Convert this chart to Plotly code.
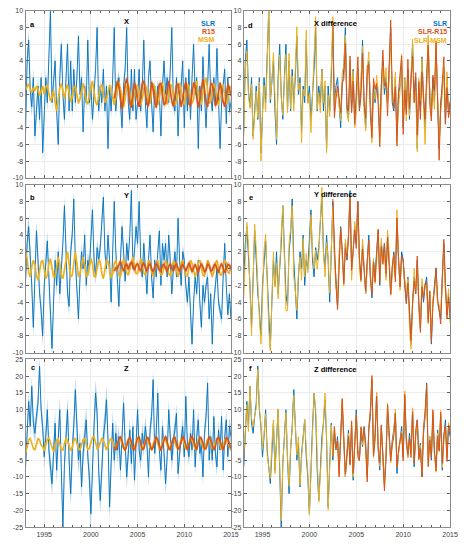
import numpy as np
import plotly.graph_objects as go

# ---------------- data (fractional years, 2-month grid from 1993.0) ----------------
START_YEAR = 1993.0
STEP = 1.0 / 6.0
R15_START_INDEX = 57  # R15 begins mid-2002

slr_x = [-4.5, 4, 6.5, 0.5, -1.5, 2,
         -5, -2, 1, -3, 2, -7,
         -2, 2, -1, 4, 10, -1,
         2, 4, -2, -6, 2, 6,
         0, -3, 2, 6, -2, 4,
         -2, 3, -1, 2, 7, 0,
         2, -4.5, 1, -1, 6.5, -1,
         1, -3, 0, 3, 8, -2,
         1, -1, 3, -2, 1, -6.5,
         1, -2, 2, 8, -2, 1,
         2, -1, -4, 1, 3, 8,
         -1, -3, 3, -2, 3, -3,
         -1, 3, -2, 1, 6.5, -1,
         -4, 2, 4, -1, -4.5, 1,
         -1, 1, 0, -5, 1, 4,
         0, 2, -1, 3, 8, -1,
         -2, 2, -5, 0, 1, 4,
         -4, 2, -2, 3, -3, 2,
         6, 0, 2, -6.5, 1, -2,
         4.5, 0, -4, 1, 6, 0,
         -2, 2, -1, 5.5, -1, -6.5,
         -1, 1, 3, -3.5, 2, -2,
         -1]

slr_y = [-1.5, 3, 5, 2, -2, -7,
         -1, 4.5, 1, -3, -5, -8,
         -2, 1, 3.3, -1, -6, -9.5,
         -4, 1, -2, 2, -3, 0,
         3, 7.5, 1, -3, -4.5, 2,
         4, 8.3, 1, -2, -6, -1,
         2, 0, 4, -2, 1, 0,
         3, 7, 1, -1, 2.5, 1,
         2.5, 5, 8.5, 2, 0, 4,
         1, -4, 3, 8, 2, -2,
         -4.5, 1, 5, 2, -1.5, 3,
         1, 4, 9.3, 0, 2, 5,
         3, 8, 1, -1, 3, 0,
         -3, 1, 4, -1, -3.5, 1,
         -1, 2, 4.5, -2, 3, 1,
         3, -1, 4, 1, -3, 0,
         2, -1, 6, 1, -2, 2,
         1, -2, -4, -1, -6, -9,
         -4, -1, -3, 1, -4, -7,
         -2, -4, -2, -1, -6, -3,
         -9, -4, -2, 0, -4, -5,
         -6, -1, 3, -2, -5.5, -3,
         -6]

slr_z = [-7, 3, 12.5, 5, 17, 6,
         3, 8, 12, 23, 10, 5,
         -4, 2, 10, -2, -7, -12,
         -3, 6, -8, 2, 10, -8,
         -25, -6, 2, 10, -5, -15,
         -2, 5, 16, 3, -5, 0,
         -13, -3, 2, 7, -4, -10,
         -21, -6, 5, 15, 9, -8,
         -17, -8, 2, 6, 13, 1,
         -19, -6, 6, -5, 3, -2,
         2, -8, 4, 12, 0, -10,
         -3, 4, -6, 5, -11, 2,
         10, -2, -5, 3, -1, 5,
         0, -10, 4, 8, 19, -3,
         3, 15, -2, -8, 5, -3,
         -12, -4, 10, 2, -5, 1,
         4, 9, -9, -3, 2, 5,
         -4, 14, 0, -4, 3, -2,
         10, -7, 2, 7, -3, 0,
         -10, 3, 8, 18, -5, 2,
         -5, 8, -3, -7, 4, -2,
         8, -8, 2, 7, -4, 5,
         2]

# per-year half-width of the SLR uncertainty band (1993 ... 2014)
slr_x_sigma = [1.2, 1.2, 1.1, 1.1, 1.0, 1.0, 1.0, 1.0, 0.9, 0.9, 0.9,
               0.9, 0.8, 0.8, 0.8, 0.8, 0.8, 0.8, 0.8, 0.8, 0.8, 0.8]
slr_y_sigma = [1.3, 1.3, 1.2, 1.2, 1.1, 1.0, 1.0, 1.0, 0.9, 0.9, 0.9,
               0.9, 0.8, 0.8, 0.8, 0.8, 0.8, 0.8, 0.8, 0.8, 0.8, 0.8]
slr_z_sigma = [3.0, 3.0, 3.5, 4.0, 4.0, 4.0, 4.0, 4.0, 4.0, 4.0, 3.5,
               3.5, 3.0, 3.0, 3.0, 3.0, 2.8, 2.8, 2.8, 2.8, 2.8, 2.8]

msm_x = [0.5, 1.0, 1.3, 0.6, 0.2, 0.8,
         0.4, 1.0, 0.6, -0.2, 0.5, 1.0,
         0.0, 0.9, 1.1, 0.3, -0.8, -0.4,
         0.5, -1.0, -2.0, -0.6, 0.8, 1.3,
         0.4, -0.5, 0.6, 1.2, 0.2, -0.9,
         -0.3, 0.8, 1.0, -0.2, -1.1, -0.5,
         0.6, 1.3, 0.4, -0.8, -1.2, 0.1,
         0.9, 1.6, 0.5, -0.9, -1.3, -0.2,
         0.8, 1.2, 0.1, -1.0, -0.6, 0.5,
         1.1, 0.7, -0.6, -1.3, -0.4, 0.8,
         1.5, 0.6, -0.8, -1.6, -0.5, 0.9,
         1.3, 0.3, -1.0, -1.2, 0.2, 1.0,
         1.1, -0.2, -1.3, -0.6, 0.7, 1.2,
         0.4, -0.9, -1.1, 0.3, 1.3, 0.8,
         -0.4, -1.3, -0.5, 0.8, 1.4, 0.5,
         -0.8, -1.2, 0.2, 1.2, 1.0, -0.3,
         -1.3, -0.7, 0.6, 1.4, 0.5, -0.8,
         -1.2, 0.1, 1.2, 1.0, -0.4, -1.1,
         -0.6, 0.9, 1.6, 0.4, -0.9, -1.2,
         0.2, 1.4, 2.0, 0.3, -1.1, -0.9,
         0.6, 1.3, 0.8, -0.6, -1.3, -0.4,
         1.0, 1.1, -0.3, -1.2, -0.7, 0.6,
         1.0]

msm_y = [2.0, 1.2, -0.5, -1.0, 0.2, 1.0,
         0.5, -0.8, -1.4, -0.3, 0.8, 1.0,
         -0.2, -1.2, -0.8, 0.6, 1.2, 0.3,
         -1.0, -1.0, 0.2, 1.4, 0.6, -0.8,
         -1.2, 0.0, 1.3, 2.0, 0.5, -1.0,
         -0.8, 0.8, 2.0, 0.6, -1.0, -0.6,
         0.6, 1.4, 0.4, -1.0, -0.8, 0.5,
         1.2, 0.6, -0.9, -1.0, 0.3, 1.1,
         0.8, -0.6, -1.2, 0.0, 1.0, 0.9,
         -0.3, -1.1, -0.6, 0.6, 1.0, 0.2,
         -0.8, -1.0, 0.2, 1.2, 0.6, -0.5,
         -0.8, 0.0, 0.9, 1.4, 0.4, -0.6,
         -0.6, 0.5, 1.2, 0.6, -0.5, -0.8,
         0.0, 1.0, 0.8, -0.4, -0.9, -0.2,
         0.8, 1.0, 0.0, -0.8, -0.6, 0.4,
         1.0, 0.4, -0.6, -0.9, 0.1, 0.9,
         0.7, -0.3, -1.0, -0.4, 0.6, 1.0,
         0.2, -0.8, -0.9, 0.2, 1.0, 0.6,
         -0.4, -1.0, -0.4, 0.7, 1.0, 0.1,
         -0.8, -0.9, 0.2, 1.0, 0.6, -0.4,
         -1.0, -0.4, 0.6, 1.0, 0.2, -0.7,
         -0.8, 0.2, 1.0, 0.7, -0.4, -0.6,
         0.5]

msm_z = [-3.0, -0.5, 1.0, 1.5, 0.0, -1.5,
         -2.0, 0.0, 1.5, 1.0, -0.5, -1.0,
         -2.2, -0.5, 1.2, 1.6, 0.2, -1.5,
         -2.5, -1.0, 1.0, 1.3, -0.3, -1.8,
         -2.0, 0.2, 1.5, 0.8, -1.0, -2.2,
         -1.2, 0.8, 1.6, 0.3, -1.5, -2.0,
         -0.5, 1.2, 1.4, -0.2, -1.8, -1.5,
         0.3, 1.8, 2.0, 0.0, -1.6, -1.2,
         0.5, 1.6, 1.0, -0.8, -2.0, -0.8,
         0.8, 1.5, 0.5, -1.2, -1.8, -0.3,
         1.0, 1.4, 0.2, -1.5, -1.6, 0.0,
         1.2, 1.0, -0.5, -1.8, -1.0, 0.5,
         1.5, 0.8, -0.8, -2.0, -0.6, 0.8,
         1.6, 0.3, -1.2, -1.8, 0.0, 1.2,
         1.4, -0.2, -1.6, -1.2, 0.5, 1.5,
         1.0, -0.8, -2.0, -0.8, 0.8, 1.6,
         0.6, -1.2, -1.8, -0.2, 1.2, 1.4,
         0.0, -1.6, -1.5, 0.4, 1.6, 1.0,
         -0.6, -1.8, -0.8, 1.0, 1.8, 0.5,
         -1.2, -1.8, -0.2, 1.4, 1.5, 0.0,
         -1.6, -1.4, 0.4, 1.6, 1.0, -0.6,
         -1.8, -0.8, 1.0, 1.5, 0.4, -1.2,
         -2.2]

r15_x = [-0.5, 0.8, 1.6,
         1.0, -0.6, -1.8, -0.4, 1.2, 1.9,
         0.8, -1.0, -1.6, 0.2, 1.4, 0.6,
         -0.8, -1.5, -0.2, 1.3, 1.6, 0.2,
         -1.2, -1.4, 0.4, 1.5, 0.7, -0.9,
         -1.6, -0.3, 1.2, 1.3, -0.2, -1.3,
         -1.0, 0.6, 1.6, 0.5, -0.9, -1.4,
         -0.3, 1.1, 1.2, -0.4, -1.5, -0.6,
         0.8, 1.5, 0.4, -1.2, -1.3, 0.2,
         1.4, 1.0, -0.6, -1.6, -0.5, 1.0,
         1.8, 0.7, -1.0, -1.5, 0.1, 1.3,
         1.2, -0.3, -1.4, -0.9, 0.6, 1.4,
         0.5, -0.9, -1.5, 0.1, 1.2, 0.8,
         -0.2]

r15_y = [-0.3, 0.1, 0.0,
         0.4, 0.9, 0.2, -0.3, 0.3, 0.6,
         -0.1, 0.5, 0.8, 0.2, -0.2, 0.4,
         0.6, 0.0, -0.3, 0.4, 0.7, 0.1,
         -0.3, 0.3, 0.6, 0.0, -0.4, 0.2,
         0.6, 0.3, -0.2, -0.3, 0.4, 0.5,
         0.0, -0.4, 0.3, 0.6, 0.1, -0.3,
         0.3, 0.6, 0.0, -0.4, 0.2, 0.5,
         0.1, -0.3, 0.2, 0.7, 0.2, -0.4,
         0.1, 0.5, 0.0, -0.5, 0.2, 0.6,
         0.2, -0.4, -0.2, 0.5, 0.4, -0.3,
         -0.2, 0.4, 0.5, -0.1, -0.5, 0.2,
         0.6, 0.1, -0.5, 0.0, 0.5, 0.4,
         0.0]

r15_z = [-1.0, -2.0, -0.5,
         1.2, 2.0, 0.8, -1.2, -2.2, -0.8,
         1.0, 1.8, 0.5, -1.5, -2.0, -0.2,
         1.5, 2.0, 0.2, -1.8, -1.6, 0.3,
         1.8, 1.5, -0.5, -2.0, -1.2, 0.8,
         2.0, 1.0, -1.0, -2.2, -0.5, 1.2,
         2.2, 0.5, -1.5, -1.8, 0.2, 1.6,
         1.8, 0.0, -1.8, -1.2, 0.8, 2.0,
         1.2, -0.6, -2.0, -0.6, 1.4, 2.2,
         0.6, -1.2, -2.0, 0.0, 1.8, 1.6,
         0.0, -1.6, -1.6, 0.6, 2.0, 1.0,
         -0.6, -2.0, -1.0, 1.2, 1.8, 0.4,
         -1.2, -2.0, -0.4, 1.6, 1.4, -0.4,
         -1.5]

r15_sigma = {"x": 0.45, "y": 0.4, "z": 0.6}

X_TICKS = [1995, 2000, 2005, 2010, 2015]
X_TICK_LABELS = ["1995", "2000", "2005", "2010", "2015"]
X_MINOR_TICKS = list(range(1993, 2016))
Y_TICKS_XY = [-10, -8, -6, -4, -2, 0, 2, 4, 6, 8, 10]
Y_TICKS_Z = [-25, -20, -15, -10, -5, 0, 5, 10, 15, 20, 25]

# ---------------- styling ----------------
BLUE = "#0072BD"
ORANGE = "#D95319"
YELLOW = "#EDB120"
FONT = "Arial, Liberation Sans, Helvetica, sans-serif"
W, H = 464, 551

t = START_YEAR + np.arange(len(slr_x)) * STEP
t_r15 = t[R15_START_INDEX:]

def year_sigma(sig):
    idx = np.minimum(((t - START_YEAR) // 1).astype(int), len(sig) - 1)
    return np.array(sig)[idx]

fig = go.Figure()

def band(x, lo, hi, color, ax):
    fig.add_trace(go.Scatter(
        x=np.concatenate([x, x[::-1]]), y=np.concatenate([hi, lo[::-1]]),
        fill="toself", fillcolor=color, line=dict(width=0), mode="lines",
        hoverinfo="skip", showlegend=False, xaxis="x" + ax, yaxis="y" + ax))

def line(x, y, color, width, ax):
    fig.add_trace(go.Scatter(
        x=x, y=y, mode="lines", line=dict(color=color, width=width),
        showlegend=False, xaxis="x" + ax, yaxis="y" + ax))

comp = [
    ("", "4", np.array(slr_x), np.array(msm_x), np.array(r15_x), slr_x_sigma, r15_sigma["x"]),
    ("2", "5", np.array(slr_y), np.array(msm_y), np.array(r15_y), slr_y_sigma, r15_sigma["y"]),
    ("3", "6", np.array(slr_z), np.array(msm_z), np.array(r15_z), slr_z_sigma, r15_sigma["z"]),
]

for axl, axr, slr, msm, r15, ssig, rsig in comp:
    s = year_sigma(ssig)
    band(t, slr - s, slr + s, "rgba(0,114,189,0.33)", axl)
    line(t, slr, BLUE, 0.9, axl)
    line(t, msm, YELLOW, 1.7, axl)
    band(t_r15, r15 - rsig, r15 + rsig, "rgba(217,83,25,0.28)", axl)
    line(t_r15, r15, ORANGE, 1.6, axl)
    # differences
    line(t, slr, BLUE, 1.0, axr)
    line(t, slr - msm, YELLOW, 1.0, axr)
    line(t_r15, slr[R15_START_INDEX:] - r15, ORANGE, 1.0, axr)

# ---------------- axes ----------------
xl = [26 / W, 235 / W]
xr = [248 / W, 458 / W]
rows = [(7, 176), (183, 353), (360, 530)]
ydom = [[1 - b / H, 1 - a / H] for a, b in rows]

tickfont = dict(family=FONT, size=7, color="#404040")
GRID = "#ececec"

def xaxis(dom, anchor, show_labels):
    return dict(domain=dom, anchor=anchor, range=[1993, 2015],
                tickmode="array", tickvals=X_TICKS, ticktext=X_TICK_LABELS,
                showticklabels=show_labels, ticks="inside", ticklen=3,
                tickcolor="#606060", showline=True, linecolor="#8a8a8a",
                linewidth=1, mirror="ticks", showgrid=True, gridcolor=GRID,
                gridwidth=1, zeroline=False, tickfont=tickfont,
                minor=dict(tickmode="array", tickvals=X_MINOR_TICKS, ticks="inside",
                           ticklen=2, tickcolor="#606060", showgrid=False,
                           gridcolor="rgba(0,0,0,0)"))

def yaxis(dom, anchor, ticks):
    return dict(domain=dom, anchor=anchor, range=[ticks[0], ticks[-1]],
                tickmode="array", tickvals=ticks, ticktext=[str(v) for v in ticks],
                ticks="inside", ticklen=3, tickcolor="#606060", showline=True,
                linecolor="#8a8a8a", linewidth=1, mirror="ticks", showgrid=True,
                gridcolor=GRID, gridwidth=1, zeroline=False, tickfont=tickfont)

layout = dict(width=W, height=H, margin=dict(l=0, r=0, t=0, b=0),
              paper_bgcolor="white", plot_bgcolor="white", showlegend=False,
              font=dict(family=FONT))
names = ["", "2", "3", "4", "5", "6"]
for i, n in enumerate(names):
    col = i // 3
    row = i % 3
    xd = xl if col == 0 else xr
    layout["xaxis" + n] = xaxis(xd, "y" + n, row == 2)
    layout["yaxis" + n] = yaxis(ydom[row], "x" + n, Y_TICKS_Z if row == 2 else Y_TICKS_XY)
fig.update_layout(**layout)

# ---------------- annotations ----------------
def note(ax, x, down, text, color="black", xanchor="center", size=7.5):
    fig.add_annotation(xref="x" + ax + " domain", yref="y" + ax + " domain",
                       x=x, y=1, yshift=-down, yanchor="middle", xanchor=xanchor,
                       text="<b>" + text + "</b>", showarrow=False,
                       font=dict(family=FONT, size=size, color=color),
                       borderpad=0)

panel_text = [
    ("", "a", "X", 14, 11),
    ("2", "b", "Y", 13, 11),
    ("3", "c", "Z", 8, 9),
    ("4", "d", "X difference", 15, 13),
    ("5", "e", "Y difference", 13, 10),
    ("6", "f", "Z difference", 9, 10),
]
for ax, letter, title, dl, dt in panel_text:
    note(ax, 0.035, dl, letter, xanchor="center")
    note(ax, 0.49 if ax in ("", "2", "3") else 0.445, dt, title)

for text, color, down in [("SLR", BLUE, 13), ("R15", ORANGE, 21), ("MSM", YELLOW, 29)]:
    note("", 0.925, down, text, color=color, xanchor="right", size=7)
for text, color, down in [("SLR", BLUE, 13), ("SLR-R15", ORANGE, 21), ("SLR-MSM", YELLOW, 30)]:
    note("4", 0.99, down, text, color=color, xanchor="right", size=7)

fig.write_html("out.html")
